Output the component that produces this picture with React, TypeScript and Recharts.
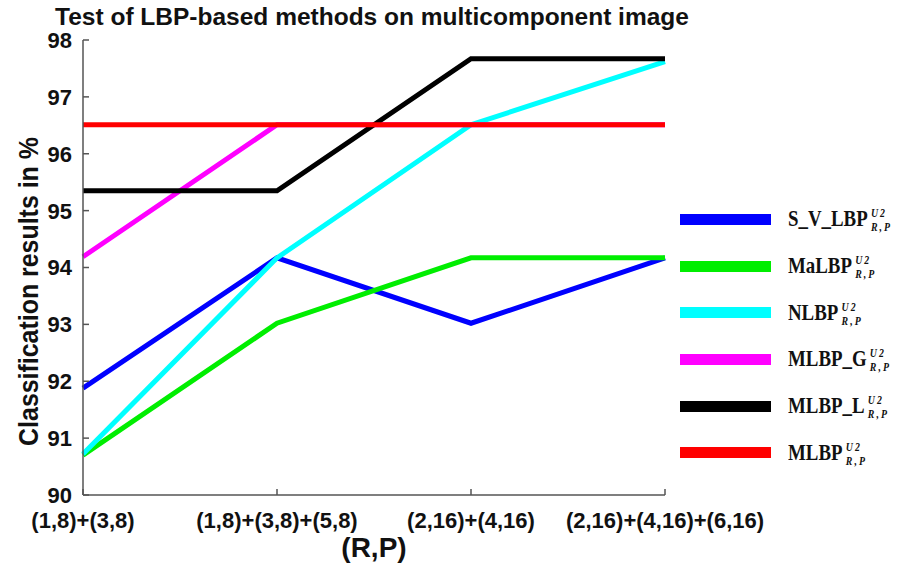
import React from "react";
import { Legend, Line, LineChart, XAxis, YAxis } from "recharts";

const categories = [
  "(1,8)+(3,8)",
  "(1,8)+(3,8)+(5,8)",
  "(2,16)+(4,16)",
  "(2,16)+(4,16)+(6,16)",
];

const sVLbp = [91.88, 94.17, 93.02, 94.17];
const maLbp = [90.7, 93.02, 94.17, 94.17];
const nLbp = [90.72, 94.17, 96.51, 97.62];
const mlbpG = [94.19, 96.51, 96.51, 96.51];
const mlbpL = [95.35, 95.35, 97.67, 97.67];
const mlbp = [96.51, 96.51, 96.51, 96.51];

const yTicks = [90, 91, 92, 93, 94, 95, 96, 97, 98];

const series = [
  { key: "sv", name: "S_V_LBP", color: "#0000ff", values: sVLbp },
  { key: "ma", name: "MaLBP", color: "#00ee00", values: maLbp },
  { key: "n", name: "NLBP", color: "#00ffff", values: nLbp },
  { key: "g", name: "MLBP_G", color: "#ff00ff", values: mlbpG },
  { key: "l", name: "MLBP_L", color: "#000000", values: mlbpL },
  { key: "m", name: "MLBP", color: "#ff0000", values: mlbp },
];

const chartData = categories.map((cat, i) => {
  const row: Record<string, string | number> = { cat };
  series.forEach((s) => {
    row[s.key] = s.values[i];
  });
  return row;
});

const FRAME = "#555555";
const SANS = "'Liberation Sans', Arial, sans-serif";

const YTick = (props: any) => {
  const { x, y, payload } = props;
  return (
    <text
      x={x}
      y={y}
      dy="0.36em"
      textAnchor="end"
      fontFamily={SANS}
      fontWeight="bold"
      fontSize={22}
      fill="#111"
    >
      {payload.value}
    </text>
  );
};

const XTick = (props: any) => {
  const { x, y, payload } = props;
  return (
    <text
      x={x}
      y={y}
      textAnchor="middle"
      fontFamily={SANS}
      fontWeight="bold"
      fontSize={22}
      fill="#111"
    >
      {payload.value}
    </text>
  );
};

const NoTick = () => <g />;

// label sits a bit below the plot centre, as in the original figure
const YLabel = (props: any) => {
  const { viewBox } = props;
  const cy = viewBox.y + viewBox.height / 2 + 24;
  return (
    <text
      transform={`translate(38,${cy}) rotate(-90) scale(0.89,1)`}
      textAnchor="middle"
      fontFamily={SANS}
      fontWeight="bold"
      fontSize={28}
      fill="#111"
    >
      Classification results in %
    </text>
  );
};

const XLabel = (props: any) => {
  const { viewBox } = props;
  return (
    <text
      x={viewBox.x + viewBox.width / 2}
      y={557}
      textAnchor="middle"
      fontFamily={SANS}
      fontWeight="bold"
      fontSize={28}
      fill="#111"
    >
      (R,P)
    </text>
  );
};

const seriesOrder = (name: string) => series.findIndex((s) => s.name === name);

const renderLegend = (props: any) => {
  const items = [...(props.payload ?? [])].sort(
    (a: any, b: any) => seriesOrder(a.value) - seriesOrder(b.value)
  );
  return (
    <div>
      {items.map((entry: any) => (
        <div
          key={entry.value}
          style={{ display: "flex", alignItems: "center", height: 46.7 }}
        >
          <span
            style={{
              display: "inline-block",
              width: 91,
              height: 11,
              background: entry.color,
              marginRight: 17,
              flexShrink: 0,
            }}
          />
          <span
            style={{
              display: "inline-flex",
              alignItems: "center",
              transform: "scaleX(0.82)",
              transformOrigin: "left center",
              fontFamily: "'Liberation Serif', 'Times New Roman', serif",
              fontWeight: "bold",
              fontSize: 23,
              lineHeight: "24px",
              color: "#111",
              whiteSpace: "nowrap",
            }}
          >
            <span>{entry.value}</span>
            <span
              style={{
                display: "inline-flex",
                flexDirection: "column",
                fontStyle: "italic",
                fontSize: 12,
                lineHeight: "14px",
                letterSpacing: 2.5,
                marginLeft: 4,
                marginTop: 2,
              }}
            >
              <span>U2</span>
              <span>R,P</span>
            </span>
          </span>
        </div>
      ))}
    </div>
  );
};

export default function App() {
  return (
    <div
      style={{
        position: "absolute",
        left: 0,
        top: 0,
        width: 907,
        height: 570,
        background: "#ffffff",
      }}
    >
      <div
        style={{
          position: "absolute",
          left: 0,
          top: 5,
          width: 744,
          textAlign: "center",
          fontFamily: SANS,
          fontWeight: "bold",
          fontSize: 24.5,
          lineHeight: "24px",
          color: "#111",
          whiteSpace: "nowrap",
          zIndex: 2,
        }}
      >
        Test of LBP-based methods on multicomponent image
      </div>
      <LineChart
        width={907}
        height={570}
        data={chartData}
        margin={{ top: 40, right: 242, bottom: 45, left: 43 }}
      >
        <XAxis
          dataKey="cat"
          height={30}
          stroke={FRAME}
          strokeWidth={1.5}
          tickSize={-6}
          tickMargin={39}
          tick={<XTick />}
          interval={0}
          label={<XLabel />}
        />
        <XAxis
          xAxisId="top"
          orientation="top"
          dataKey="cat"
          height={0}
          stroke={FRAME}
          strokeWidth={1.5}
          tickSize={-6}
          tick={<NoTick />}
          interval={0}
        />
        <YAxis
          width={40}
          domain={[90, 98]}
          ticks={yTicks}
          type="number"
          allowDataOverflow
          stroke={FRAME}
          strokeWidth={1.5}
          tickSize={-6}
          tickMargin={17}
          tick={<YTick />}
          interval={0}
          label={<YLabel />}
        />
        <YAxis
          yAxisId="right"
          orientation="right"
          width={0}
          domain={[90, 98]}
          ticks={yTicks}
          type="number"
          stroke={FRAME}
          strokeWidth={1.5}
          tickSize={-6}
          tick={<NoTick />}
          interval={0}
        />
        <Legend
          layout="vertical"
          align="center"
          verticalAlign="middle"
          content={renderLegend}
          wrapperStyle={{ left: 680, top: 196, width: 227 }}
        />
        {series.map((s) => (
          <Line
            key={s.key}
            dataKey={s.key}
            name={s.name}
            stroke={s.color}
            strokeWidth={5}
            dot={false}
            activeDot={false}
            isAnimationActive={false}
          />
        ))}
      </LineChart>
    </div>
  );
}
